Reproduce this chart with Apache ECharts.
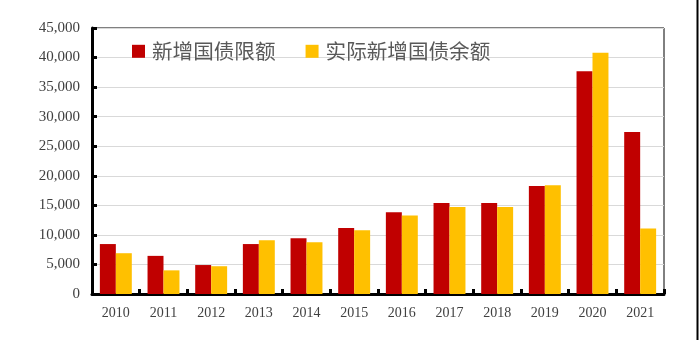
<!DOCTYPE html>
<html>
<head>
<meta charset="utf-8">
<script src="https://cdn.jsdelivr.net/npm/echarts@6/dist/echarts.min.js"></script>
<style>html,body{margin:0;padding:0;background:#fff;}#c{width:700px;height:340px;}</style>
</head>
<body>
<div id="c"></div>
<script>
var categories = ['2010','2011','2012','2013','2014','2015','2016','2017','2018','2019','2020','2021'];
var quota = [8450, 6450, 4900, 8450, 9450, 11150, 13850, 15400, 15400, 18250, 37700, 27400];
var actual = [6900, 4000, 4700, 9100, 8750, 10800, 13300, 14700, 14700, 18400, 40800, 11100];
var seriesNames = ['新增国债限额', '实际新增国债余额'];
var yTicks = {min: 0, max: 45000, interval: 5000};

var chart = echarts.init(document.getElementById('c'), null, {renderer: 'canvas'});
var option = {
  backgroundColor: '#ffffff',
  animation: false,
  grid: {left: 92, right: 36, top: 28, bottom: 46, show: true, borderColor: '#000', borderWidth: 1},
  legend: {
    left: 127, top: 36, itemWidth: 13, itemHeight: 13, itemGap: 30,
    icon: 'rect',
    textStyle: {fontFamily: 'Noto Sans CJK SC', fontSize: 20.6, color: '#595959', padding: [0,0,0,2]},
    data: seriesNames
  },
  xAxis: {
    type: 'category', data: categories,
    axisLine: {lineStyle: {color: '#000', width: 3}},
    axisTick: {show: true, inside: true, length: 5, lineStyle: {color: '#000', width: 3}},
    axisLabel: {fontFamily: 'Liberation Serif', fontSize: 14, color: '#404040', margin: 12}
  },
  yAxis: {
    type: 'value', min: yTicks.min, max: yTicks.max, interval: yTicks.interval,
    axisLine: {show: true, lineStyle: {color: '#000', width: 3}},
    axisTick: {show: true, inside: true, length: 5, lineStyle: {color: '#000', width: 3}},
    splitLine: {lineStyle: {color: '#d9d9d9', width: 1}},
    axisLabel: {fontFamily: 'Liberation Serif', fontSize: 15, color: '#404040', margin: 12,
      formatter: function(v){ return v.toLocaleString('en-US'); }}
  },
  series: [
    {name: seriesNames[0], type: 'bar', data: quota, barGap: '0%', barCategoryGap: '33%', itemStyle: {color: '#c00000'}},
    {name: seriesNames[1], type: 'bar', data: actual, itemStyle: {color: '#ffc000'}}
  ],
  graphic: [
    {type: 'line', shape: {x1: 697.5, y1: 0, x2: 697.5, y2: 340}, style: {stroke: '#000', lineWidth: 2}}
  ]
};
chart.setOption(option);
</script>
</body>
</html>
